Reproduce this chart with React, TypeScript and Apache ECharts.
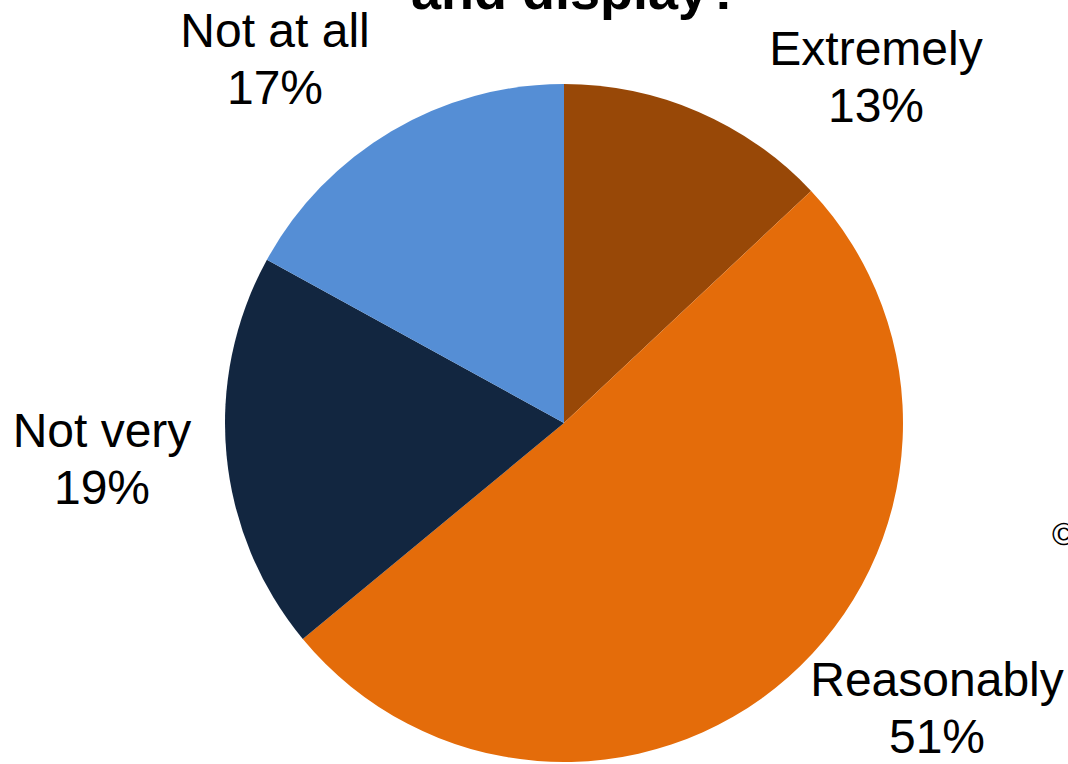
import React, { useEffect, useRef } from "react";
import * as echarts from "echarts";

const categories = ["Extremely", "Reasonably", "Not very", "Not at all"];
const values = [13, 51, 19, 17];
const colors = ["#984807", "#E46C0A", "#122640", "#558ED5"];
const labelSpots = [
  [876, 77],
  [937, 708],
  [102, 459],
  [275, 59],
];

export default function App() {
  const ref = useRef<HTMLDivElement>(null);
  useEffect(() => {
    const chart = echarts.init(ref.current!, null, { renderer: "svg" });
    chart.setOption({
      animation: false,
      backgroundColor: "#ffffff",
      graphic: [
        {
          type: "text",
          x: 576,
          y: 17,
          style: {
            text: "and display?",
            font: "bold 54px 'Liberation Sans', Arial, sans-serif",
            fill: "#000000",
            align: "center",
            verticalAlign: "bottom",
          },
        },
        {
          type: "text",
          x: 1052,
          y: 534,
          style: {
            text: "©",
            font: "32px 'Liberation Sans', Arial, sans-serif",
            fill: "#000000",
            align: "left",
            verticalAlign: "middle",
          },
        },
      ],
      series: [
        {
          type: "pie",
          center: [564, 423],
          radius: [0, 339],
          startAngle: 90,
          clockwise: true,
          avoidLabelOverlap: false,
          itemStyle: { borderWidth: 0 },
          label: {
            show: true,
            formatter: "{b}\n{c}%",
            fontFamily: "'Liberation Sans', Arial, sans-serif",
            fontSize: 48,
            lineHeight: 57,
            color: "#000000",
            align: "center",
          },
          labelLine: { show: false },
          labelLayout: (p: any) => ({
            x: labelSpots[p.dataIndex][0],
            y: labelSpots[p.dataIndex][1],
            align: "center",
            verticalAlign: "middle",
          }),
          data: categories.map((c, i) => ({
            name: c,
            value: values[i],
            itemStyle: { color: colors[i] },
          })),
        },
      ],
    });
    return () => chart.dispose();
  }, []);
  return (
    <div
      ref={ref}
      style={{ position: "absolute", left: 0, top: 0, width: 1068, height: 764 }}
    />
  );
}
